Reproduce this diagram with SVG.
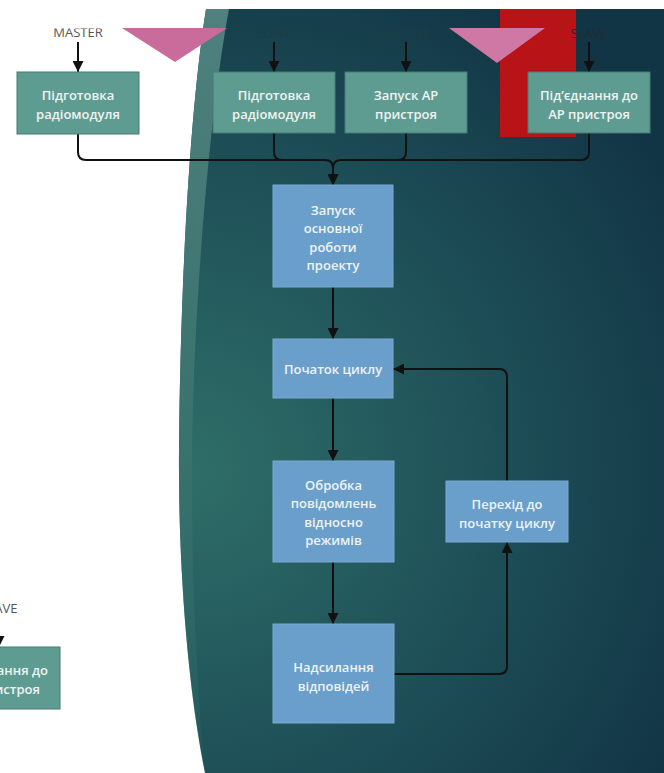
<svg xmlns="http://www.w3.org/2000/svg" width="664" height="773" viewBox="0 0 664 773">
<defs>
  <radialGradient id="bg" cx="190" cy="470" r="560" gradientUnits="userSpaceOnUse">
    <stop offset="0" stop-color="#2f6e68"/>
    <stop offset="0.5" stop-color="#1f5259"/>
    <stop offset="1" stop-color="#123545"/>
  </radialGradient>
  <linearGradient id="band" x1="0" y1="0" x2="0" y2="1">
    <stop offset="0" stop-color="#4f827e" stop-opacity="1"/>
    <stop offset="0.55" stop-color="#3c736e" stop-opacity="0.9"/>
    <stop offset="1" stop-color="#2e6965" stop-opacity="0.2"/>
  </linearGradient>
  <clipPath id="topclip"><rect x="-100" y="28.5" width="900" height="800"/></clipPath>
  <marker id="arr" viewBox="0 0 10 10" refX="10" refY="5" markerWidth="11" markerHeight="11" markerUnits="userSpaceOnUse" orient="auto">
    <path d="M0,0 L10,5 L0,10 z" fill="#111"/>
  </marker>
  <style>
    .lbl { font-family: "Open Sans", "Noto Sans", "DejaVu Sans", sans-serif; font-size: 13px; text-anchor: middle; }
    .txt { font-family: "Open Sans", "Noto Sans", "DejaVu Sans", sans-serif; font-size: 13px; font-weight: 600; fill: #eef4f2; text-anchor: middle; }
    .g { fill: #5e9c91; stroke: #467a72; stroke-width: 1; }
    .b { fill: #6a9ecb; stroke: #7aaad2; stroke-width: 1; }
    .c { fill: none; stroke: #111; stroke-width: 2; }
    .ca { fill: none; stroke: #111; stroke-width: 2; marker-end: url(#arr); }
  </style>
</defs>

<rect x="0" y="0" width="664" height="773" fill="#ffffff"/>
<path d="M206 9 L664 9 L664 773 L205 773 C190 700 178 580 179 450 C180 320 187 130 206 9 Z" fill="url(#bg)"/>
<path d="M206 9 L229 9 C210 110 194 300 192 450 C191 580 198 700 205 773 C190 700 178 580 179 450 C180 320 187 130 206 9 Z" fill="url(#band)"/>

<rect x="500" y="9" width="76" height="128" fill="#b81418"/>
<polygon points="122,28 227,28 175,62" fill="#c96b9b"/>
<polygon points="449,28 545,28 497,63" fill="#cf78a6"/>

<g clip-path="url(#topclip)">
  <text class="lbl" x="78" y="37" fill="#555">MASTER</text>
  <text class="lbl" x="274" y="37.5" fill="#1d3d44">SLAVE</text>
  <text class="lbl" x="406" y="37.5" fill="#1d3d44">MASTER</text>
  <text class="lbl" x="589" y="37.5" fill="#222c30">SLAVE</text>
</g>
<text class="lbl" x="-1" y="613" fill="#555">SLAVE</text>

<g id="connectors">
  <path class="ca" d="M78 42 V72"/>
  <path class="ca" d="M274 42 V72"/>
  <path class="ca" d="M406 42 V72"/>
  <path class="ca" d="M589 42 V72"/>
  <path class="ca" d="M-1 619 V647"/>
  <path class="ca" d="M78 134 V152 Q78 160 86 160 H325 Q333 160 333 168 V185"/>
  <path class="c" d="M274 133 V152 Q274 160 282 160"/>
  <path class="ca" d="M406 133 V152 Q406 160 398 160 H341 Q333 160 333 168 V185"/>
  <path class="c" d="M589 133 V152 Q589 160 581 160 H398"/>
  <path class="ca" d="M333 287 V339"/>
  <path class="ca" d="M333 398 V461"/>
  <path class="ca" d="M333 562 V624"/>
  <path class="ca" d="M394 674 H499 Q507 674 507 666 V542"/>
  <path class="ca" d="M507 481 V377 Q507 369 499 369 H393"/>
</g>

<g id="n1"><rect class="g" x="17" y="72" width="122" height="62"/>
  <text class="txt" x="78" y="99.5">Підготовка</text><text class="txt" x="78" y="118.5">радіомодуля</text></g>
<g id="n2"><rect class="g" x="213" y="72" width="122" height="61"/>
  <text class="txt" x="274" y="99.5">Підготовка</text><text class="txt" x="274" y="118.5">радіомодуля</text></g>
<g id="n3"><rect class="g" x="345" y="72" width="122" height="61"/>
  <text class="txt" x="406" y="99.5">Запуск АР</text><text class="txt" x="406" y="118.5">пристроя</text></g>
<g id="n4"><rect class="g" x="528" y="72" width="122" height="61"/>
  <text class="txt" x="589" y="99.5">Під’єднання до</text><text class="txt" x="589" y="118.5">АР пристроя</text></g>
<g id="n5"><rect class="g" x="-62" y="647" width="122" height="62"/>
  <text class="txt" x="-1" y="674.7">Під’єднання до</text><text class="txt" x="-1" y="693.5">АР пристроя</text></g>

<g id="n6"><rect class="b" x="273" y="185" width="120" height="102"/>
  <text class="txt" x="333" y="214.7">Запуск</text><text class="txt" x="333" y="233">основної</text>
  <text class="txt" x="333" y="251.5">роботи</text><text class="txt" x="333" y="270">проекту</text></g>
<g id="n7"><rect class="b" x="273" y="339" width="120" height="59"/>
  <text class="txt" x="333" y="373.7">Початок циклу</text></g>
<g id="n8"><rect class="b" x="273" y="461" width="121" height="101"/>
  <text class="txt" x="333.5" y="489.7">Обробка</text><text class="txt" x="333.5" y="508">повідомлень</text>
  <text class="txt" x="333.5" y="526.5">відносно</text><text class="txt" x="333.5" y="545">режимів</text></g>
<g id="n9"><rect class="b" x="273" y="624" width="121" height="99"/>
  <text class="txt" x="333.5" y="671.7">Надсилання</text><text class="txt" x="333.5" y="690.5">відповідей</text></g>
<g id="n10"><rect class="b" x="446" y="481" width="122" height="61"/>
  <text class="txt" x="507" y="508.7">Перехід до</text><text class="txt" x="507" y="527.5">початку циклу</text></g>
</svg>
